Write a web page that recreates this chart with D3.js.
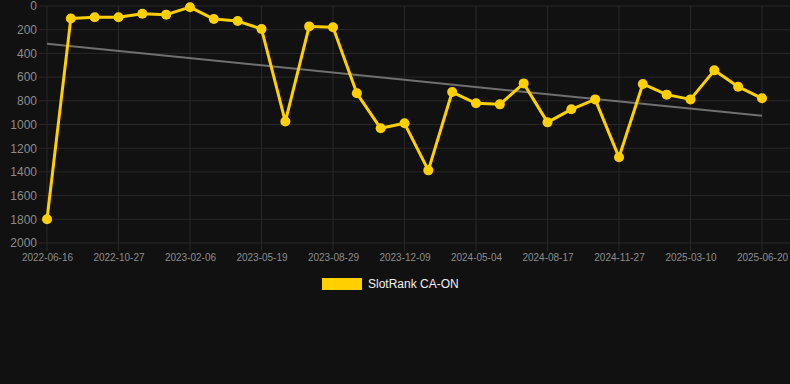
<!DOCTYPE html>
<html>
<head>
<meta charset="utf-8">
<script src="https://cdn.jsdelivr.net/npm/d3@7"></script>
<style>
  html, body { margin: 0; padding: 0; background: #111111; }
  svg { display: block; font-family: "Liberation Sans", Arial, Helvetica, sans-serif; }
</style>
</head>
<body>
<div id="chart"></div>
<script>
// Snapshot dates (only every third one is labelled on the axis)
const dates = [
  '2022-06-16', '2022-07-30', '2022-09-12', '2022-10-27', '2022-11-30', '2023-01-03',
  '2023-02-06', '2023-03-12', '2023-04-15', '2023-05-19', '2023-06-24', '2023-07-26',
  '2023-08-29', '2023-10-04', '2023-11-06', '2023-12-09', '2024-01-30', '2024-03-18',
  '2024-05-04', '2024-06-08', '2024-07-13', '2024-08-17', '2024-09-20', '2024-10-24',
  '2024-11-27', '2024-12-31', '2025-02-04', '2025-03-10', '2025-04-13', '2025-05-17',
  '2025-06-20'
];

// Rank per snapshot (lower is better)
const ranks = [
  1800, 105, 95, 95, 65, 73,
  10, 110, 127, 194, 975, 172,
  180, 737, 1032, 990, 1387, 726,
  821, 830, 653, 982, 872, 788,
  1277, 658, 748, 788, 543, 681,
  779
];

const yTicks = [0, 200, 400, 600, 800, 1000, 1200, 1400, 1600, 1800, 2000];
const seriesName = 'SlotRank CA-ON';

const W = 790, H = 384;
const plot = { left: 47, right: 762, top: 6, bottom: 243 };

const svg = d3.select('#chart').append('svg')
    .attr('width', W)
    .attr('height', H);

const x = d3.scalePoint()
    .domain(dates)
    .range([plot.left, plot.right]);

const y = d3.scaleLinear()
    .domain([0, 2000])
    .range([plot.top, plot.bottom]);

// Horizontal grid
svg.append('g')
    .selectAll('line')
    .data(yTicks)
    .join('line')
    .attr('x1', plot.left - 8)
    .attr('x2', W)
    .attr('y1', d => y(d))
    .attr('y2', d => y(d))
    .attr('stroke', '#282828')
    .attr('stroke-width', 1);

// Vertical grid at labelled dates
const labelDates = dates.filter((d, i) => i % 3 === 0);
svg.append('g')
    .selectAll('line')
    .data(labelDates)
    .join('line')
    .attr('x1', d => x(d))
    .attr('x2', d => x(d))
    .attr('y1', plot.top)
    .attr('y2', plot.bottom + 8)
    .attr('stroke', '#282828')
    .attr('stroke-width', 1);

// Y axis labels
const yAxis = d3.axisLeft(y)
    .tickValues(yTicks)
    .tickFormat(d3.format('d'))
    .tickSize(0)
    .tickPadding(0);
svg.append('g')
    .attr('transform', `translate(${plot.left - 10},0)`)
    .call(yAxis)
    .call(g => g.select('.domain').remove())
    .selectAll('text')
    .attr('fill', '#8c8c8c')
    .style('font-size', '12px')
    .style('font-family', '"Liberation Sans", Arial, sans-serif');

// X axis labels
const xAxis = d3.axisBottom(x).tickValues(labelDates).tickSize(0).tickPadding(0);
svg.append('g')
    .attr('transform', `translate(0,${plot.bottom + 11})`)
    .call(xAxis)
    .call(g => g.select('.domain').remove())
    .selectAll('text')
    .attr('fill', '#8c8c8c')
    .style('font-size', '10px')
    .style('font-family', '"Liberation Sans", Arial, sans-serif');

// Linear trend (least squares over the snapshots)
const n = ranks.length;
const mx = d3.mean(ranks, (d, i) => i);
const my = d3.mean(ranks);
const slope = d3.sum(ranks, (d, i) => (i - mx) * (d - my)) / d3.sum(ranks, (d, i) => (i - mx) * (i - mx));
const icpt = my - slope * mx;

svg.append('line')
    .attr('x1', x(dates[0]))
    .attr('y1', y(icpt))
    .attr('x2', x(dates[n - 1]))
    .attr('y2', y(icpt + slope * (n - 1)))
    .attr('stroke', '#707070')
    .attr('stroke-width', 2);

// Rank line
const line = d3.line()
    .x((d, i) => x(dates[i]))
    .y(d => y(d));

svg.append('path')
    .datum(ranks)
    .attr('d', line)
    .attr('fill', 'none')
    .attr('stroke', '#ffd000')
    .attr('stroke-width', 3)
    .attr('stroke-linejoin', 'round');

svg.append('g')
    .selectAll('circle')
    .data(ranks)
    .join('circle')
    .attr('cx', (d, i) => x(dates[i]))
    .attr('cy', d => y(d))
    .attr('r', 5)
    .attr('fill', '#ffd000');

// Legend
const legend = svg.append('g').attr('transform', 'translate(322,278)');
legend.append('rect')
    .attr('width', 40)
    .attr('height', 12)
    .attr('fill', '#ffd000');
legend.append('text')
    .attr('x', 46)
    .attr('y', 6)
    .attr('dy', '0.35em')
    .attr('fill', '#f0f0f0')
    .style('font-size', '12px')
    .text(seriesName);
</script>
</body>
</html>
